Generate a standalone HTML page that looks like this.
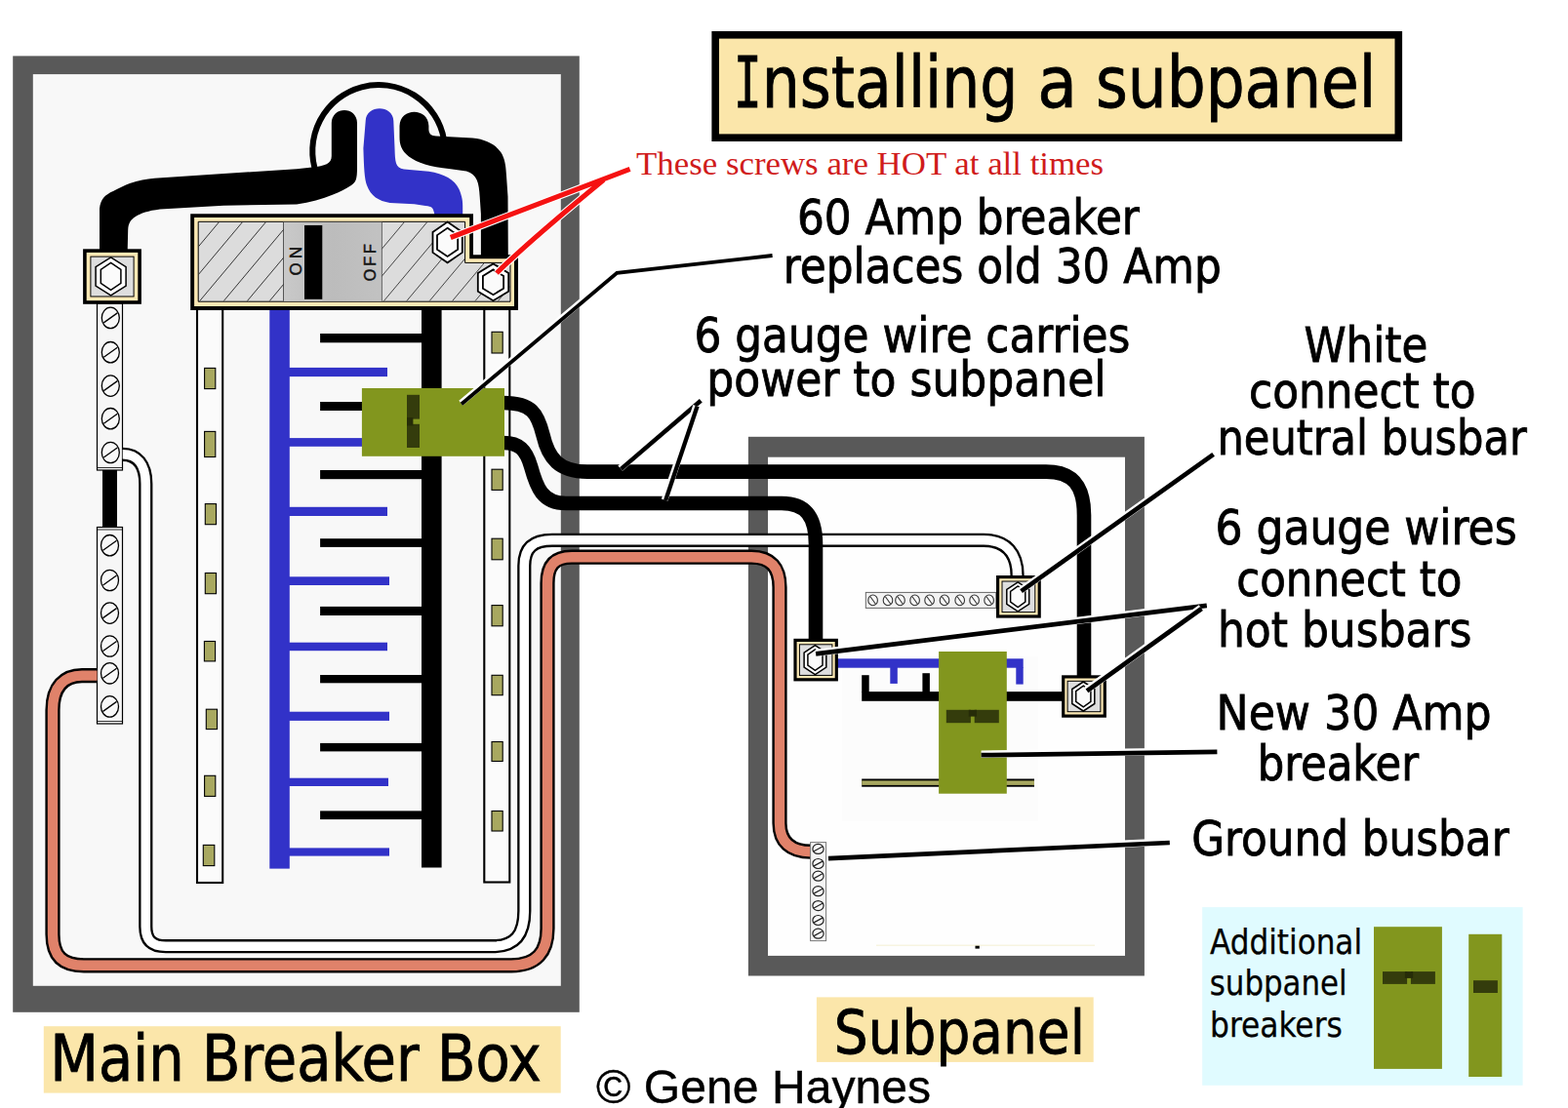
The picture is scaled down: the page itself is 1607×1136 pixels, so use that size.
<!DOCTYPE html>
<html lang="en"><head><meta charset="utf-8"><title>Installing a subpanel</title>
<style>html,body{margin:0;padding:0;background:#fff}body{width:1607px;height:1136px}svg{display:block}.t{font-family:"DejaVu Sans Condensed","DejaVu Sans","Liberation Sans",sans-serif;fill:#000;stroke:#000;stroke-width:0.8px}.l{font-family:"DejaVu Sans Condensed","DejaVu Sans","Liberation Sans",sans-serif;fill:#000;stroke:#000;stroke-width:0.25px}.m{font-family:"DejaVu Sans Mono","Liberation Mono",monospace;fill:#000;stroke:#000;stroke-width:0.8px}.a{font-family:"Liberation Sans",sans-serif;fill:#000;stroke:#000;stroke-width:0.4px}.s{font-family:"Liberation Serif",serif;fill:#d01c1c}</style></head><body>
<svg width="1607" height="1136" viewBox="0 0 1607 1136">
<rect width="1607" height="1136" fill="#fff"/>
<g id="mainbox">
<rect x="13.2" y="57.4" width="580.6" height="980.4" fill="#595959" />
<rect x="33.8" y="76.1" width="541.0" height="934.7" fill="#f8f8f8" />
</g>
<g id="subbox">
<rect x="766.9" y="447.8" width="406.0" height="552.7" fill="#595959" />
<rect x="787.0" y="468.7" width="366.0" height="511.2" fill="#fefefe" />
<rect x="863.0" y="673.0" width="201.0" height="169.0" fill="#fcfcfc" />
</g>
<path d="M324.3,178 A67.9,67.9 0 1 1 455,143" fill="none" stroke="#000" stroke-width="6"/>
<g id="neutral">
<rect x="105.0" y="480.0" width="15.0" height="62.0" fill="#000" />
<rect x="99.5" y="311" width="26" height="171" fill="#f6f6f6" stroke="#000" stroke-width="1.2"/>
<line x1="99.5" y1="479.5" x2="125.5" y2="479.5" stroke="#000" stroke-width="0.8"/>
<ellipse cx="113.3" cy="325.9" rx="9" ry="10.7" fill="#f8f8f8" stroke="#000" stroke-width="1.3"/>
<line x1="106.3" y1="330.9" x2="120.3" y2="320.9" stroke="#000" stroke-width="1.3"/>
<ellipse cx="113.3" cy="361.2" rx="9" ry="10.7" fill="#f8f8f8" stroke="#000" stroke-width="1.3"/>
<line x1="106.3" y1="366.2" x2="120.3" y2="356.2" stroke="#000" stroke-width="1.3"/>
<ellipse cx="113.3" cy="395.6" rx="9" ry="10.7" fill="#f8f8f8" stroke="#000" stroke-width="1.3"/>
<line x1="106.3" y1="400.6" x2="120.3" y2="390.6" stroke="#000" stroke-width="1.3"/>
<ellipse cx="113.3" cy="429.2" rx="9" ry="10.7" fill="#f8f8f8" stroke="#000" stroke-width="1.3"/>
<line x1="106.3" y1="434.2" x2="120.3" y2="424.2" stroke="#000" stroke-width="1.3"/>
<ellipse cx="113.3" cy="464.0" rx="9" ry="10.7" fill="#f8f8f8" stroke="#000" stroke-width="1.3"/>
<line x1="106.3" y1="469.0" x2="120.3" y2="459.0" stroke="#000" stroke-width="1.3"/>
<rect x="99.5" y="540.5" width="26" height="201.5" fill="#f6f6f6" stroke="#000" stroke-width="1.2"/>
<line x1="99.5" y1="543" x2="125.5" y2="543" stroke="#000" stroke-width="0.8"/>
<line x1="99.5" y1="739.5" x2="125.5" y2="739.5" stroke="#000" stroke-width="0.8"/>
<ellipse cx="112.5" cy="559.2" rx="9" ry="10.7" fill="#f8f8f8" stroke="#000" stroke-width="1.3"/>
<line x1="105.5" y1="564.2" x2="119.5" y2="554.2" stroke="#000" stroke-width="1.3"/>
<ellipse cx="112.5" cy="595.0" rx="9" ry="10.7" fill="#f8f8f8" stroke="#000" stroke-width="1.3"/>
<line x1="105.5" y1="600.0" x2="119.5" y2="590.0" stroke="#000" stroke-width="1.3"/>
<ellipse cx="112.5" cy="628.6" rx="9" ry="10.7" fill="#f8f8f8" stroke="#000" stroke-width="1.3"/>
<line x1="105.5" y1="633.6" x2="119.5" y2="623.6" stroke="#000" stroke-width="1.3"/>
<ellipse cx="112.5" cy="662.5" rx="9" ry="10.7" fill="#f8f8f8" stroke="#000" stroke-width="1.3"/>
<line x1="105.5" y1="667.5" x2="119.5" y2="657.5" stroke="#000" stroke-width="1.3"/>
<ellipse cx="112.5" cy="690.3" rx="9" ry="10.7" fill="#f8f8f8" stroke="#000" stroke-width="1.3"/>
<line x1="105.5" y1="695.3" x2="119.5" y2="685.3" stroke="#000" stroke-width="1.3"/>
<ellipse cx="112.5" cy="724.4" rx="9" ry="10.7" fill="#f8f8f8" stroke="#000" stroke-width="1.3"/>
<line x1="105.5" y1="729.4" x2="119.5" y2="719.4" stroke="#000" stroke-width="1.3"/>
</g>
<g id="slots">
<rect x="202" y="317" width="26.2" height="588" fill="#fbfbfb" stroke="#000" stroke-width="2.1"/>
<rect x="496.3" y="317" width="26" height="587.5" fill="#fbfbfb" stroke="#000" stroke-width="2.1"/>
<rect x="209.6" y="377.4" width="11.2" height="21.2" fill="#a8a860" stroke="#000" stroke-width="1.1"/>
<rect x="209.6" y="442.4" width="11.2" height="26.1" fill="#a8a860" stroke="#000" stroke-width="1.1"/>
<rect x="210.3" y="516.6" width="11.2" height="21.1" fill="#a8a860" stroke="#000" stroke-width="1.1"/>
<rect x="210.3" y="587.5" width="11.2" height="21.2" fill="#a8a860" stroke="#000" stroke-width="1.1"/>
<rect x="209.4" y="657.5" width="11.2" height="20.4" fill="#a8a860" stroke="#000" stroke-width="1.1"/>
<rect x="211.3" y="727.2" width="11.2" height="20.4" fill="#a8a860" stroke="#000" stroke-width="1.1"/>
<rect x="209.6" y="795.3" width="11.2" height="21.1" fill="#a8a860" stroke="#000" stroke-width="1.1"/>
<rect x="208.3" y="866.4" width="11.5" height="21.2" fill="#a8a860" stroke="#000" stroke-width="1.1"/>
<rect x="504" y="340.3" width="11.2" height="21.7" fill="#a8a860" stroke="#000" stroke-width="1.1"/>
<rect x="504" y="481.2" width="11.2" height="21.2" fill="#a8a860" stroke="#000" stroke-width="1.1"/>
<rect x="504" y="552.2" width="11.2" height="21.6" fill="#a8a860" stroke="#000" stroke-width="1.1"/>
<rect x="504" y="620.6" width="11.2" height="21.2" fill="#a8a860" stroke="#000" stroke-width="1.1"/>
<rect x="504" y="692.3" width="11.2" height="20.4" fill="#a8a860" stroke="#000" stroke-width="1.1"/>
<rect x="504" y="760.5" width="11.2" height="20.0" fill="#a8a860" stroke="#000" stroke-width="1.1"/>
<rect x="504" y="831.5" width="11.2" height="20.5" fill="#a8a860" stroke="#000" stroke-width="1.1"/>
</g>
<g id="bus">
<rect x="276.3" y="315.0" width="20.5" height="575.6" fill="#3232c8" />
<rect x="296.0" y="376.9" width="101.0" height="9.2" fill="#3232c8" />
<rect x="296.0" y="449.1" width="101.0" height="8.7" fill="#3232c8" />
<rect x="296.0" y="519.8" width="101.0" height="9.2" fill="#3232c8" />
<rect x="296.0" y="591.3" width="103.0" height="8.7" fill="#3232c8" />
<rect x="296.0" y="658.7" width="101.0" height="8.5" fill="#3232c8" />
<rect x="296.0" y="729.7" width="103.0" height="9.2" fill="#3232c8" />
<rect x="296.0" y="797.7" width="102.0" height="8.3" fill="#3232c8" />
<rect x="296.0" y="869.4" width="103.0" height="8.2" fill="#3232c8" />
<rect x="432.0" y="315.0" width="20.6" height="574.5" fill="#000" />
<rect x="328.1" y="342.0" width="104.9" height="9.3" fill="#000" />
<rect x="328.1" y="412.0" width="104.9" height="9.0" fill="#000" />
<rect x="328.1" y="482.0" width="104.9" height="9.2" fill="#000" />
<rect x="328.1" y="552.2" width="104.9" height="8.7" fill="#000" />
<rect x="328.1" y="621.9" width="104.9" height="9.1" fill="#000" />
<rect x="328.1" y="692.0" width="104.9" height="8.3" fill="#000" />
<rect x="328.1" y="761.9" width="104.9" height="8.5" fill="#000" />
<rect x="328.1" y="831.4" width="104.9" height="8.7" fill="#000" />
</g>
<g id="service">
<path d="M102,257 L102,214 C103,204 108,199.5 116,196 C122,193 127,190 133,188 C142,185 150,183.6 158.4,182.7 L229.3,178 L304,173.3 L320,171.6 C333,170 339.8,168 339.8,160 L339.8,126 C340,108.5 366,108.5 366,126 L366,172 C366,184 364.5,187 360,190 C354,194 348,197 341.3,199.5 C330,204 318,207.5 304,209.4 L229.3,210.7 L164,214.4 C152,216 144,218.5 139,222 C133.5,225.5 131.5,229 131.2,236 L130.7,257 Z" fill="#000"/>
<path d="M374.7,124 C375,107 403,107 403.3,124 L404.5,152 C405,166 405,172 414,173.4 L439.4,175.7 C455,178 466,184 470.5,194 C473.5,201 474.2,206 474.2,211 L474.2,221 L445.6,221 C444,212.5 443,211.7 436,211 L424.5,209.3 L399.6,208 C388,206 380,201 376,190 C373.5,183 373,172 372.4,152 Z" fill="#3232c8"/>
<path d="M409.5,129 C410,110 439,110 439.4,129 L439.4,133 C440,138 442,139 447,139.4 L484.2,141.6 C500,143 510,150 514.5,158 C518,165 518.5,172 519,180 L520.5,201.8 L520.8,265 L492.9,265 L492.9,219.2 L491.7,201.8 C491,188 489,178.5 478,175.6 L461.8,173.2 C440,171 428,167 419,160.5 C411,154 409.5,148 409.5,140 Z" fill="#000"/>
</g>
<g id="mainbreaker">
<path d="M195.2,219.2 L485,219.2 L485,261.2 L531,261.2 L531,317.9 L195.2,317.9 Z" fill="#000"/>
<path d="M199.1,223 L481.2,223 L481.2,265.2 L527,265.2 L527,314 L199.1,314 Z" fill="#fbe8b4"/>
<path id="bk" d="M203.2,227.3 L476.6,227.3 L476.6,269.4 L523,269.4 L523,309.2 L203.2,309.2 Z" fill="#dcdcdc" stroke="#000" stroke-width="1"/>
<defs><clipPath id="cl"><rect x="203.7" y="227.8" width="86.8" height="81"/></clipPath><clipPath id="cr"><path d="M391.4,227.8 L476.1,227.8 L476.1,269.9 L522.5,269.9 L522.5,308.8 L391.4,308.8 Z"/></clipPath><linearGradient id="mg" x1="0" x2="1" y1="0" y2="0"><stop offset="0" stop-color="#c9c9c9"/><stop offset="0.5" stop-color="#bcbcbc"/><stop offset="1" stop-color="#c2c2c2"/></linearGradient></defs>
<rect x="290.5" y="227.8" width="100.9" height="81.0" fill="url(#mg)" />
<line x1="290.5" y1="227.8" x2="290.5" y2="308.8" stroke="#555" stroke-width="1"/>
<line x1="391.4" y1="227.8" x2="391.4" y2="308.8" stroke="#666" stroke-width="1"/>
<g clip-path="url(#cl)" stroke="#222" stroke-width="0.9">
<line x1="132.5" y1="308.7" x2="200.5" y2="227.5"/>
<line x1="156.6" y1="308.7" x2="224.6" y2="227.5"/>
<line x1="180.6" y1="308.7" x2="248.6" y2="227.5"/>
<line x1="204.6" y1="308.7" x2="272.6" y2="227.5"/>
<line x1="229.2" y1="308.7" x2="297.2" y2="227.5"/>
<line x1="253.3" y1="308.7" x2="321.3" y2="227.5"/>
<line x1="276.2" y1="308.7" x2="344.2" y2="227.5"/>
</g>
<g clip-path="url(#cr)" stroke="#333" stroke-width="0.9">
<line x1="323.1" y1="308.7" x2="391.1" y2="227.5"/>
<line x1="346.5" y1="308.7" x2="414.5" y2="227.5"/>
<line x1="369.9" y1="308.7" x2="437.9" y2="227.5"/>
<line x1="393.3" y1="308.7" x2="461.3" y2="227.5"/>
<line x1="416.7" y1="308.7" x2="484.7" y2="227.5"/>
<line x1="440.1" y1="308.7" x2="508.1" y2="227.5"/>
<line x1="463.5" y1="308.7" x2="531.5" y2="227.5"/>
<line x1="486.9" y1="308.7" x2="554.9" y2="227.5"/>
<line x1="510.3" y1="308.7" x2="578.3" y2="227.5"/>
</g>
<rect x="312.0" y="231.0" width="18.3" height="75.8" fill="#000" />
<text class="a" transform="translate(308.6,282.4) rotate(-90)" font-size="16.8" letter-spacing="4.4" style="fill:#111;stroke:#111;stroke-width:0.5px">ON</text>
<text class="a" transform="translate(384.8,288.2) rotate(-90)" font-size="16.2" letter-spacing="2.9" style="fill:#111;stroke:#111;stroke-width:0.5px">OFF</text>
<polygon points="458.6,227.5 473.8,238.0 473.8,258.9 458.6,269.3 443.5,258.9 443.5,238.0" fill="#fff" stroke="#000" stroke-width="1.8"/>
<polygon points="458.6,233.8 469.2,241.1 469.2,255.7 458.6,263.0 448.0,255.7 448.0,241.1" fill="#fbfbfb" stroke="#000" stroke-width="1.8"/>
<polygon points="505.5,270.4 521.2,279.9 521.2,298.8 505.5,308.2 489.8,298.8 489.8,279.9" fill="#fff" stroke="#000" stroke-width="1.8"/>
<polygon points="505.5,276.4 516.1,282.9 516.1,295.7 505.5,302.2 494.9,295.7 494.9,282.9" fill="#fbfbfb" stroke="#000" stroke-width="1.8"/>
</g>
<rect x="85.1" y="255.3" width="59.8" height="56.5" fill="#000" />
<rect x="88.7" y="258.9" width="52.6" height="49.3" fill="#fbe8b4" />
<rect x="92.9" y="263.1" width="44.2" height="40.9" fill="#dedede" stroke="#000" stroke-width="1"/>
<polygon points="113.6,263.9 129.1,273.6 129.1,293.1 113.6,302.8 98.1,293.1 98.1,273.6" fill="#fff" stroke="#000" stroke-width="1.5"/>
<polygon points="113.6,269.3 123.9,276.3 123.9,290.4 113.6,297.4 103.3,290.4 103.3,276.3" fill="#fbfbfb" stroke="#000" stroke-width="1.5"/>
<path d="M125.7,465.8 C140,465.8 149.3,476 149.3,496 L149.3,950 C149.3,964 156,970.2 170,970.2 L505,970.2 C528,970.2 537.3,958 537.3,934 L537.3,580 C537.3,562 546,553.8 566,553.8 L1008,553.8 C1032,553.8 1042.6,568 1042.6,590 L1042.6,592" fill="none" stroke="#000" stroke-width="14.2"/>
<path d="M125.7,465.8 C140,465.8 149.3,476 149.3,496 L149.3,950 C149.3,964 156,970.2 170,970.2 L505,970.2 C528,970.2 537.3,958 537.3,934 L537.3,580 C537.3,562 546,553.8 566,553.8 L1008,553.8 C1032,553.8 1042.6,568 1042.6,590 L1042.6,592" fill="none" stroke="#fff" stroke-width="9.6"/>
<path d="M99.5,692.6 L84,692.6 C66,692.6 54,704 54,728 L54,958 C54,980 64,989.8 86,989.8 L524,989.8 C550,989.8 561,976 561,952 L561,598 C561,580 568,571.2 586,571.2 L770,571.2 C790,571.2 799,582 799,602 L799,844 C799,863 810,873.2 831,873.2" fill="none" stroke="#000" stroke-width="15.2"/>
<path d="M99.5,692.6 L84,692.6 C66,692.6 54,704 54,728 L54,958 C54,980 64,989.8 86,989.8 L524,989.8 C550,989.8 561,976 561,952 L561,598 C561,580 568,571.2 586,571.2 L770,571.2 C790,571.2 799,582 799,602 L799,844 C799,863 810,873.2 831,873.2" fill="none" stroke="#e0826a" stroke-width="10.4"/>
<path d="M516,413 C545,413 551,424 556.5,446 C562,470 573,483.6 602,483.6 L1072,483.6 C1100,483.6 1111,498 1111,528 L1111,694" fill="none" stroke="#000" stroke-width="14.6"/>
<path d="M516,454 C532,454 539,461 544,478 C550,500 556,516 580,516 L801,516 C826,516 836,530 836,558 L836,657" fill="none" stroke="#000" stroke-width="14.6"/>
<rect x="370.9" y="398.0" width="146.1" height="69.8" fill="#82961e" />
<rect x="417.0" y="404.8" width="13.0" height="24.8" fill="#343c0c" />
<rect x="417.0" y="434.8" width="13.0" height="24.2" fill="#343c0c" />
<rect x="417.0" y="428.0" width="6.4" height="8.5" fill="#262c08" />
<g id="subint">
<rect x="887.3" y="607.4" width="133.5" height="16" fill="#f2f2f2" stroke="#666" stroke-width="1"/>
<ellipse cx="894.6" cy="615.4" rx="4.8" ry="5.4" fill="#f8f8f8" stroke="#333" stroke-width="1.1"/>
<line x1="892.0" y1="611.8" x2="897.2" y2="619.0" stroke="#333" stroke-width="1.1"/>
<ellipse cx="910.0" cy="615.4" rx="4.8" ry="5.4" fill="#f8f8f8" stroke="#333" stroke-width="1.1"/>
<line x1="907.4" y1="611.8" x2="912.6" y2="619.0" stroke="#333" stroke-width="1.1"/>
<ellipse cx="922.5" cy="615.4" rx="4.8" ry="5.4" fill="#f8f8f8" stroke="#333" stroke-width="1.1"/>
<line x1="919.9" y1="611.8" x2="925.1" y2="619.0" stroke="#333" stroke-width="1.1"/>
<ellipse cx="937.6" cy="615.4" rx="4.8" ry="5.4" fill="#f8f8f8" stroke="#333" stroke-width="1.1"/>
<line x1="935.0" y1="611.8" x2="940.2" y2="619.0" stroke="#333" stroke-width="1.1"/>
<ellipse cx="952.6" cy="615.4" rx="4.8" ry="5.4" fill="#f8f8f8" stroke="#333" stroke-width="1.1"/>
<line x1="950.0" y1="611.8" x2="955.2" y2="619.0" stroke="#333" stroke-width="1.1"/>
<ellipse cx="968.0" cy="615.4" rx="4.8" ry="5.4" fill="#f8f8f8" stroke="#333" stroke-width="1.1"/>
<line x1="965.4" y1="611.8" x2="970.6" y2="619.0" stroke="#333" stroke-width="1.1"/>
<ellipse cx="983.7" cy="615.4" rx="4.8" ry="5.4" fill="#f8f8f8" stroke="#333" stroke-width="1.1"/>
<line x1="981.1" y1="611.8" x2="986.3" y2="619.0" stroke="#333" stroke-width="1.1"/>
<ellipse cx="998.6" cy="615.4" rx="4.8" ry="5.4" fill="#f8f8f8" stroke="#333" stroke-width="1.1"/>
<line x1="996.0" y1="611.8" x2="1001.2" y2="619.0" stroke="#333" stroke-width="1.1"/>
<ellipse cx="1013.6" cy="615.4" rx="4.8" ry="5.4" fill="#f8f8f8" stroke="#333" stroke-width="1.1"/>
<line x1="1011.0" y1="611.8" x2="1016.2" y2="619.0" stroke="#333" stroke-width="1.1"/>
<rect x="858.0" y="675.3" width="190.7" height="9.4" fill="#3232c8" />
<rect x="912.3" y="684.0" width="7.5" height="16.9" fill="#3232c8" />
<rect x="1041.3" y="684.0" width="7.4" height="17.6" fill="#3232c8" />
<rect x="883.2" y="709.1" width="205.8" height="9.7" fill="#000" />
<rect x="883.2" y="692.2" width="7.5" height="17.8" fill="#000" />
<rect x="945.4" y="690.2" width="7.5" height="19.8" fill="#000" />
<rect x="883.2" y="798.5" width="176.8" height="8.2" fill="#000" />
<rect x="883.2" y="800.4" width="176.8" height="4.5" fill="#a8a860" />
<rect x="962.1" y="668.0" width="69.7" height="145.7" fill="#82961e" />
<rect x="969.8" y="727.8" width="25.1" height="13.4" fill="#343c0c" />
<rect x="998.7" y="727.8" width="25.1" height="13.4" fill="#343c0c" />
<rect x="992.8" y="727.8" width="8.2" height="6.8" fill="#262c08" />
<rect x="830.6" y="863.6" width="16" height="101" fill="#f4f4f4" stroke="#777" stroke-width="1"/>
<ellipse cx="838.5" cy="870.4" rx="5.6" ry="5.0" fill="#f8f8f8" stroke="#222" stroke-width="1.2"/>
<line x1="834.1" y1="872.8" x2="842.9" y2="868.0" stroke="#222" stroke-width="1.2"/>
<ellipse cx="838.5" cy="885.5" rx="5.6" ry="5.0" fill="#f8f8f8" stroke="#222" stroke-width="1.2"/>
<line x1="834.1" y1="887.9" x2="842.9" y2="883.1" stroke="#222" stroke-width="1.2"/>
<ellipse cx="838.5" cy="898.2" rx="5.6" ry="5.0" fill="#f8f8f8" stroke="#222" stroke-width="1.2"/>
<line x1="834.1" y1="900.6" x2="842.9" y2="895.8" stroke="#222" stroke-width="1.2"/>
<ellipse cx="838.5" cy="913.7" rx="5.6" ry="5.0" fill="#f8f8f8" stroke="#222" stroke-width="1.2"/>
<line x1="834.1" y1="916.1" x2="842.9" y2="911.3" stroke="#222" stroke-width="1.2"/>
<ellipse cx="838.5" cy="928.6" rx="5.6" ry="5.0" fill="#f8f8f8" stroke="#222" stroke-width="1.2"/>
<line x1="834.1" y1="931.0" x2="842.9" y2="926.2" stroke="#222" stroke-width="1.2"/>
<ellipse cx="838.5" cy="943.5" rx="5.6" ry="5.0" fill="#f8f8f8" stroke="#222" stroke-width="1.2"/>
<line x1="834.1" y1="945.9" x2="842.9" y2="941.1" stroke="#222" stroke-width="1.2"/>
<ellipse cx="838.5" cy="957.2" rx="5.6" ry="5.0" fill="#f8f8f8" stroke="#222" stroke-width="1.2"/>
<line x1="834.1" y1="959.6" x2="842.9" y2="954.8" stroke="#222" stroke-width="1.2"/>
<rect x="999.5" y="969.4" width="4.3" height="3.2" fill="#000" />
<line x1="898" y1="969.2" x2="1122" y2="969.2" stroke="#f0ecc8" stroke-width="0.8"/>
</g>
<rect x="1021.0" y="590.0" width="45.8" height="43.6" fill="#000" />
<rect x="1024.2" y="593.2" width="39.4" height="37.2" fill="#fbe8b4" />
<rect x="1027.0" y="596.0" width="33.8" height="31.6" fill="#dedede" stroke="#000" stroke-width="1"/>
<polygon points="1043.2,596.8 1054.7,604.3 1054.7,619.3 1043.2,626.8 1031.8,619.3 1031.8,604.3" fill="#fff" stroke="#000" stroke-width="1.5"/>
<polygon points="1043.2,601.0 1050.8,606.4 1050.8,617.2 1043.2,622.6 1035.6,617.2 1035.6,606.4" fill="#fbfbfb" stroke="#000" stroke-width="1.5"/>
<rect x="813.4" y="654.8" width="45.5" height="43.6" fill="#000" />
<rect x="816.6" y="658.0" width="39.1" height="37.2" fill="#fbe8b4" />
<rect x="819.4" y="660.8" width="33.5" height="31.6" fill="#dedede" stroke="#000" stroke-width="1"/>
<polygon points="835.4,661.6 846.8,669.1 846.8,684.1 835.4,691.6 824.1,684.1 824.1,669.1" fill="#fff" stroke="#000" stroke-width="1.5"/>
<polygon points="835.4,665.8 843.0,671.2 843.0,682.0 835.4,687.4 827.9,682.0 827.9,671.2" fill="#fbfbfb" stroke="#000" stroke-width="1.5"/>
<rect x="1088.1" y="692.3" width="45.8" height="43.4" fill="#000" />
<rect x="1091.3" y="695.5" width="39.4" height="37.0" fill="#fbe8b4" />
<rect x="1094.1" y="698.3" width="33.8" height="31.4" fill="#dedede" stroke="#000" stroke-width="1"/>
<polygon points="1110.3,699.0 1121.8,706.5 1121.8,721.5 1110.3,729.0 1098.8,721.5 1098.8,706.5" fill="#fff" stroke="#000" stroke-width="1.5"/>
<polygon points="1110.3,703.2 1117.9,708.6 1117.9,719.4 1110.3,724.8 1102.7,719.4 1102.7,708.6" fill="#fbfbfb" stroke="#000" stroke-width="1.5"/>
<rect x="1232.2" y="930.1" width="328.4" height="182.7" fill="#e0fbff" />
<rect x="1408.0" y="950.2" width="69.9" height="145.7" fill="#82961e" />
<rect x="1417.0" y="996.1" width="25.1" height="12.8" fill="#343c0c" />
<rect x="1445.9" y="996.1" width="25.0" height="12.8" fill="#343c0c" />
<rect x="1439.9" y="996.1" width="8.2" height="6.8" fill="#262c08" />
<rect x="1505.2" y="957.8" width="34.1" height="146.2" fill="#82961e" />
<rect x="1510.0" y="1005.2" width="24.9" height="12.8" fill="#343c0c" />
<rect x="44.8" y="1052.2" width="529.9" height="68.4" fill="#fbe6aa" />
<rect x="836.9" y="1022.4" width="283.8" height="66.5" fill="#fbe6aa" />
<rect x="729.4" y="32.0" width="707.7" height="113.0" fill="#000" />
<rect x="737.0" y="39.6" width="692.5" height="97.8" fill="#fbe6aa" />
<g id="pointers">
<path d="M791.0,261.1 L631.7,278.9 L472.4,413.3" fill="none" stroke="#ffffff" stroke-width="6.4" stroke-linejoin="miter"/>
<path d="M791.6,262.0 L632.3,279.8 L473.0,414.2" fill="none" stroke="#000" stroke-width="3.8" stroke-linejoin="miter"/>
<path d="M717.5,410.0 L635.7,480.1" fill="none" stroke="#ffffff" stroke-width="7.1" stroke-linejoin="miter"/>
<path d="M718.3,410.8 L636.5,480.9" fill="none" stroke="#000" stroke-width="4.5" stroke-linejoin="miter"/>
<path d="M713.6,416.1 L681.1,512.7" fill="none" stroke="#ffffff" stroke-width="6.9" stroke-linejoin="miter"/>
<path d="M714.6,416.5 L682.1,513.1" fill="none" stroke="#000" stroke-width="4.3" stroke-linejoin="miter"/>
<path d="M1243.0,465.0 L1046.0,605.4" fill="none" stroke="#ffffff" stroke-width="7.300000000000001" stroke-linejoin="miter"/>
<path d="M1243.6,465.8 L1046.6,606.2" fill="none" stroke="#000" stroke-width="4.7" stroke-linejoin="miter"/>
<path d="M1236.7,619.9 L836.0,669.4" fill="none" stroke="#ffffff" stroke-width="7.4" stroke-linejoin="miter"/>
<path d="M1236.8,620.9 L836.1,670.4" fill="none" stroke="#000" stroke-width="4.8" stroke-linejoin="miter"/>
<path d="M1230.9,623.2 L1113.4,707.6" fill="none" stroke="#ffffff" stroke-width="7.4" stroke-linejoin="miter"/>
<path d="M1231.5,624.0 L1114.0,708.4" fill="none" stroke="#000" stroke-width="4.8" stroke-linejoin="miter"/>
<path d="M1247.4,769.9 L1005.6,773.2" fill="none" stroke="#ffffff" stroke-width="7.4" stroke-linejoin="miter"/>
<path d="M1247.4,770.9 L1005.6,774.2" fill="none" stroke="#000" stroke-width="4.8" stroke-linejoin="miter"/>
<path d="M1198.7,863.0 L848.9,879.2" fill="none" stroke="#ffffff" stroke-width="7.300000000000001" stroke-linejoin="miter"/>
<path d="M1198.8,864.0 L849.0,880.2" fill="none" stroke="#000" stroke-width="4.7" stroke-linejoin="miter"/>
<path d="M645.6,173.3 L461.8,243.5 M618.5,184.5 Q540.4,248.8 509,280" fill="none" stroke="#fff" stroke-width="7.4"/>
<path d="M645.6,173.3 L461.8,243.5 M618.5,184.5 Q540.4,248.8 509,280" fill="none" stroke="#f51212" stroke-width="5.1"/>
</g>
<g id="labels">
<text class="t" xml:space="preserve" font-size="72.5"><tspan class="m" x="751.80" y="110.40" font-size="72.5" textLength="29.01" lengthAdjust="spacingAndGlyphs">I</tspan><tspan class="t" x="780.70" y="110.40" font-size="72.5" textLength="282.22" lengthAdjust="spacingAndGlyphs">nstalling </tspan><tspan class="t" x="1063.20" y="110.40" font-size="72.5" textLength="61.85" lengthAdjust="spacingAndGlyphs">a </tspan><tspan class="t" x="1123.00" y="110.40" font-size="72.5" textLength="287.30" lengthAdjust="spacingAndGlyphs">subpanel</tspan></text>
<text class="s" x="652.00" y="179.30" font-size="34.5" textLength="479.14" lengthAdjust="spacingAndGlyphs">These screws are HOT at all times</text>
<text class="t" x="817.00" y="240.30" font-size="49.6" textLength="350.83" lengthAdjust="spacingAndGlyphs">60 Amp breaker</text>
<text class="t" x="802.80" y="290.00" font-size="49.6" textLength="448.92" lengthAdjust="spacingAndGlyphs">replaces old 30 Amp</text>
<text class="t" x="711.50" y="361.40" font-size="49.6" textLength="446.93" lengthAdjust="spacingAndGlyphs">6 gauge wire carries</text>
<text class="t" x="724.30" y="405.70" font-size="49.6" textLength="409.21" lengthAdjust="spacingAndGlyphs">power to subpanel</text>
<text class="t" x="1336.40" y="370.60" font-size="49.6" textLength="126.89" lengthAdjust="spacingAndGlyphs">White</text>
<text class="t" x="1280.10" y="417.90" font-size="49.6" textLength="232.34" lengthAdjust="spacingAndGlyphs">connect to</text>
<text class="t" x="1247.40" y="466.40" font-size="49.6" textLength="317.34" lengthAdjust="spacingAndGlyphs">neutral busbar</text>
<text class="t" x="1245.50" y="558.20" font-size="49.6" textLength="309.07" lengthAdjust="spacingAndGlyphs">6 gauge wires</text>
<text class="t" x="1267.30" y="610.60" font-size="49.6" textLength="231.12" lengthAdjust="spacingAndGlyphs">connect to</text>
<text class="t" x="1248.00" y="662.50" font-size="49.6" textLength="260.48" lengthAdjust="spacingAndGlyphs">hot busbars</text>
<text class="t" x="1246.60" y="748.00" font-size="49.6" textLength="282.08" lengthAdjust="spacingAndGlyphs">New 30 Amp</text>
<text class="t" x="1288.70" y="799.80" font-size="49.6" textLength="165.39" lengthAdjust="spacingAndGlyphs">breaker</text>
<text class="t" x="1221.20" y="877.00" font-size="49.6" textLength="325.43" lengthAdjust="spacingAndGlyphs">Ground busbar</text>
<text class="l" x="1240.10" y="977.60" font-size="35.4" textLength="155.94" lengthAdjust="spacingAndGlyphs">Additional</text>
<text class="l" x="1239.80" y="1020.30" font-size="35.4" textLength="140.86" lengthAdjust="spacingAndGlyphs">subpanel</text>
<text class="l" x="1240.00" y="1063.00" font-size="35.4" textLength="135.83" lengthAdjust="spacingAndGlyphs">breakers</text>
<text class="t" x="51.30" y="1107.80" font-size="65" textLength="503.45" lengthAdjust="spacingAndGlyphs">Main Breaker Box</text>
<text class="t" x="854.80" y="1079.60" font-size="62.6" textLength="257.12" lengthAdjust="spacingAndGlyphs">Subpanel</text>
<text class="a" x="611.00" y="1130.80" font-size="48" textLength="343.02" lengthAdjust="spacingAndGlyphs">© Gene Haynes</text>
</g>
</svg></body></html>
